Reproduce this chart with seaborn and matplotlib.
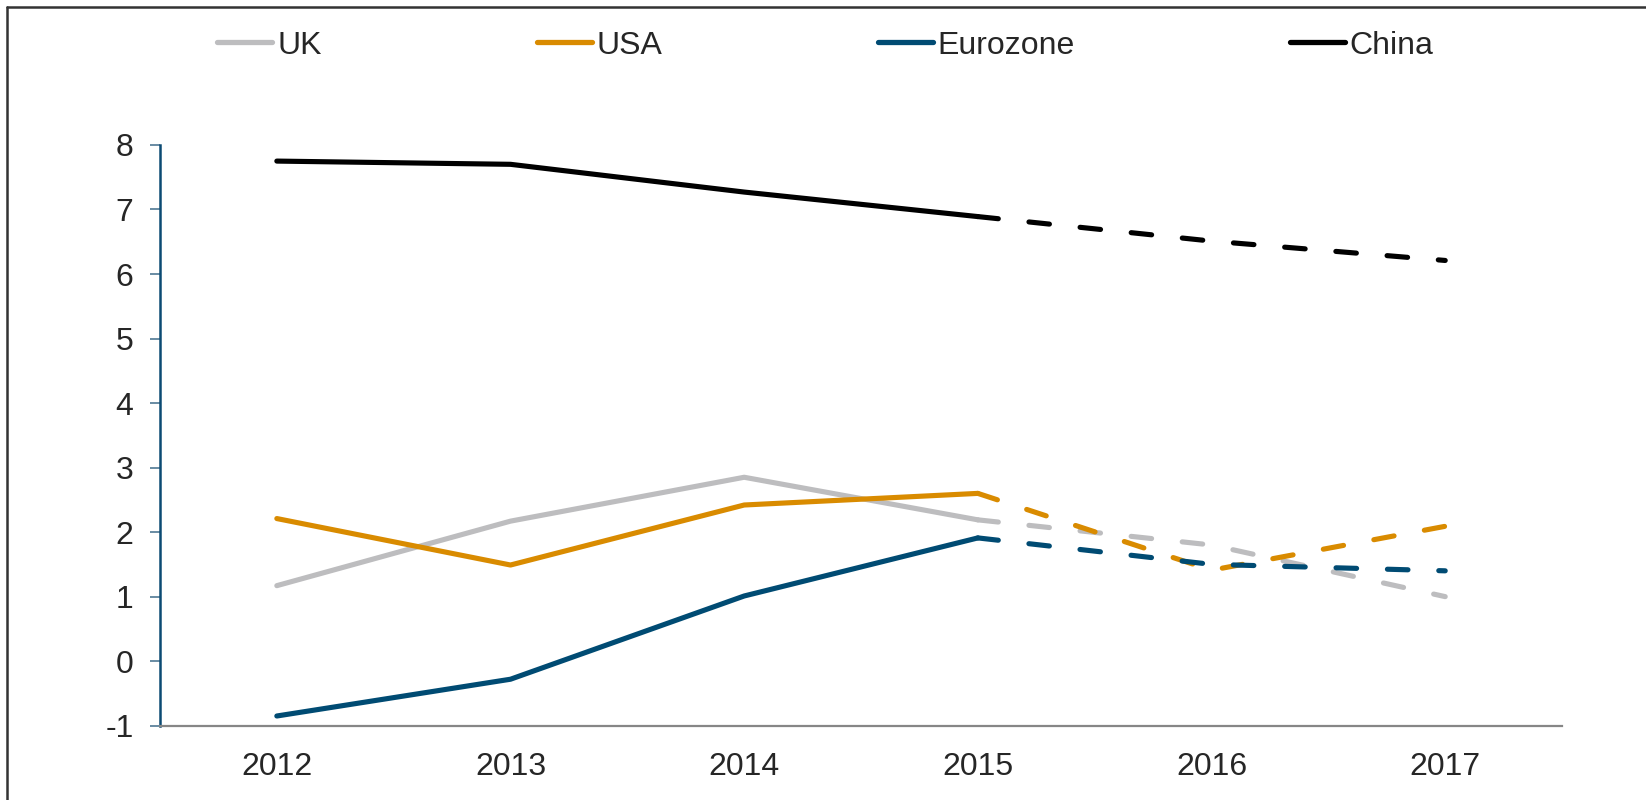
import pandas as pd
import matplotlib
matplotlib.use("Agg")
import matplotlib.pyplot as plt
from matplotlib.lines import Line2D
import seaborn as sns

# GDP growth (%) - actual to 2015, forecast after
years = [2012, 2013, 2014, 2015, 2016, 2017]
uk = [1.17, 2.17, 2.85, 2.19, 1.80, 1.00]
usa = [2.21, 1.49, 2.42, 2.60, 1.41, 2.09]
eurozone = [-0.85, -0.28, 1.01, 1.91, 1.50, 1.40]
china = [7.75, 7.70, 7.27, 6.89, 6.51, 6.21]
last_actual = 2015

regions = ["UK", "USA", "Eurozone", "China"]
colors = {"UK": "#BDBDBF", "USA": "#D98B00", "Eurozone": "#004B73", "China": "#000000"}

# long format, 2015 repeated so solid and dashed parts join up
rows = []
for name, vals in zip(regions, [uk, usa, eurozone, china]):
    for yr, v in zip(years, vals):
        if yr <= last_actual:
            rows.append({"Year": yr, "Growth": v, "Region": name, "Period": "actual"})
        if yr >= last_actual:
            rows.append({"Year": yr, "Growth": v, "Region": name, "Period": "forecast"})
df = pd.DataFrame(rows)

sns.set_style("white")
plt.rcParams["font.family"] = ["Liberation Sans", "DejaVu Sans"]
plt.rcParams["axes.unicode_minus"] = False

fig = plt.figure(figsize=(16.46, 8.0), dpi=100)
ax = fig.add_axes([0.0972, 0.0929, 0.8518, 0.7259])

sns.lineplot(data=df, x="Year", y="Growth", hue="Region", style="Period",
             hue_order=regions, palette=colors,
             dashes={"actual": "", "forecast": (4, 6)},
             linewidth=3.7, legend=False, ax=ax, sort=False)
for line in ax.lines:
    line.set_dash_capstyle("round")
    line.set_solid_capstyle("round")

ax.set_xlim(2011.5, 2017.5)
ax.set_ylim(-1, 8)
ax.set_xticks(years)
ax.set_xticklabels([str(y) for y in years])
ax.set_yticks(range(-1, 9))
ax.set_xlabel("")
ax.set_ylabel("")

for s in ["top", "right"]:
    ax.spines[s].set_visible(False)
ax.spines["left"].set_color("#0B4A73")
ax.spines["left"].set_linewidth(1.8)
ax.spines["bottom"].set_color("#868686")
ax.spines["bottom"].set_linewidth(1.6)

ax.tick_params(axis="y", length=7, width=1.2, color="#4F7894", pad=12, labelsize=23, left=True)
ax.tick_params(axis="x", length=0, pad=19, labelsize=23)

handles = [Line2D([0], [0], color=colors[r], lw=3.8) for r in regions]
fig.legend(handles, regions, loc="center left", bbox_to_anchor=(0.132, 0.943),
           ncol=4, frameon=False, fontsize=23, handlelength=1.72, handletextpad=0.15,
           columnspacing=6.74, borderpad=0, borderaxespad=0)

# outer frame (left and top edges visible in the crop)
fig.add_artist(Line2D([0.004, 0.004], [0, 0.991], color="#333333", lw=1.8))
fig.add_artist(Line2D([0.004, 1], [0.991, 0.991], color="#333333", lw=1.8))

fig.savefig("out.png", dpi=100)
